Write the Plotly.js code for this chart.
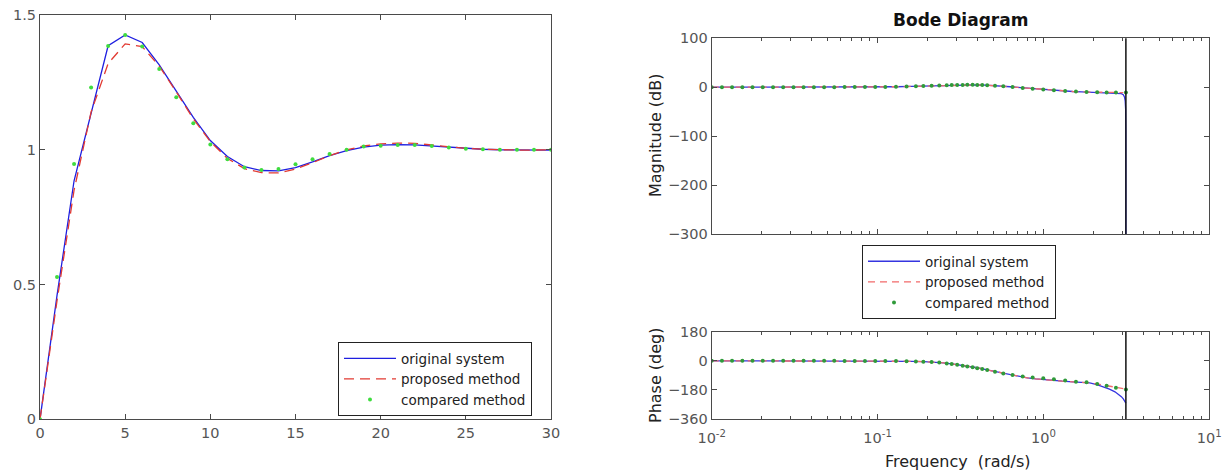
<!DOCTYPE html>
<html><head><meta charset="utf-8">
<script src="https://cdn.plot.ly/plotly-3.0.1.min.js"></script>
<style>html,body{margin:0;padding:0;background:#fff}#chart{width:1231px;height:474px}</style>
</head><body><div id="chart"></div>
<script>
// ---- Step response (left) ----
const stepTime = [0,1,2,3,4,5,6,7,8,9,10,11,12,13,14,15,16,17,18,19,20,21,22,23,24,25,26,27,28,29,30];
const stepOriginal = [0,0.46,0.885,1.14,1.386,1.426,1.398,1.315,1.218,1.12,1.034,0.975,0.937,0.923,0.922,0.934,0.955,0.978,0.997,1.01,1.017,1.019,1.018,1.014,1.009,1.005,1.002,1.0,0.999,0.999,0.999];
const stepProposed = [0,0.44,0.85,1.14,1.32,1.393,1.383,1.31,1.215,1.115,1.03,0.968,0.93,0.915,0.914,0.928,0.952,0.978,1.0,1.014,1.022,1.025,1.024,1.018,1.011,1.005,1.002,1.0,0.999,0.999,1.0];
const stepCompared = [0,0.528,0.947,1.231,1.385,1.426,1.383,1.30,1.195,1.098,1.02,0.965,0.934,0.925,0.929,0.946,0.965,0.984,1.0,1.012,1.015,1.018,1.018,1.014,1.008,1.004,1.002,1.0,1.0,1.0,1.0];

// ---- Bode (right) ----
const origW = [0.01,0.02,0.05,0.1,0.13,0.16,0.19,0.22,0.25,0.28,0.31,0.35,0.4,0.45,0.5,0.56,0.63,0.7,0.8,0.9,1.0,1.15,1.3,1.5,1.7,1.9,2.1,2.3,2.5,2.7,2.85,2.95,3.03,3.08,3.11,3.13,3.139,3.1415];
const origMag = [0,0,0.2,0.5,1.0,1.6,2.4,3.1,3.7,4.2,4.6,4.8,4.7,4.2,3.5,2.4,1.0,-0.4,-2.1,-3.5,-4.8,-6.3,-7.5,-8.7,-9.5,-10.0,-10.4,-10.7,-11.0,-11.4,-12.0,-13.2,-15.5,-20,-28,-45,-90,-300];
const origPhase = [0,0,-0.5,-1,-2,-3,-5,-8,-13,-19,-25,-33,-43,-55,-65,-76,-87,-96,-106,-112,-117,-122,-126,-130,-133,-137,-147,-160,-175,-192,-208,-222,-236,-246,-253,-258,-261,-262];

const propW = [0.01,0.02,0.05,0.1,0.13,0.16,0.19,0.22,0.25,0.28,0.31,0.35,0.4,0.45,0.5,0.56,0.63,0.7,0.8,0.9,1.0,1.15,1.3,1.5,1.7,1.9,2.1,2.3,2.5,2.7,2.85,2.95,3.03];
const propMag = [0,0,0.2,0.5,1.0,1.6,2.4,3.1,3.7,4.2,4.6,4.8,4.7,4.2,3.5,2.4,1.0,-0.4,-2.1,-3.5,-4.8,-6.3,-7.5,-8.7,-9.5,-10.0,-10.4,-10.7,-10.8,-10.9,-10.9,-11.0,-11.0];
const propPhase = [0,0,-0.5,-1,-2,-3,-5,-8,-13,-19,-25,-33,-43,-55,-65,-76,-87,-96,-106,-112,-117,-122,-126,-130,-133,-137,-143,-150,-157,-163,-167,-170,-172];

const compW = [0.01,0.01153,0.01327,0.01531,0.01762,0.02032,0.02344,0.02698,0.03112,0.03581,0.0413,0.04764,0.05483,0.06324,0.07278,0.08395,0.09683,0.1114,0.1291,0.1496,0.1702,0.1888,0.2118,0.2355,0.2612,0.2799,0.302,0.3258,0.3475,0.3741,0.399,0.4276,0.4581,0.5105,0.5728,0.6516,0.7499,0.861,0.9977,1.156,1.352,1.57,1.82,2.109,2.404,2.735,3.1416];
const compMag = [0,0,0,0,0,0,0,0,0.1,0.1,0.1,0.2,0.2,0.3,0.3,0.4,0.5,0.7,1.0,1.4,1.9,2.4,3.0,3.5,4.0,4.3,4.6,4.8,4.9,4.9,4.7,4.4,4.0,3.1,1.9,0.3,-1.5,-3.2,-4.8,-6.3,-7.8,-8.9,-9.7,-10.2,-10.6,-10.8,-10.9];
const compPhase = [0,0,0,0,0,0,0,0,0,0,-0.2,-0.3,-0.4,-0.5,-0.7,-0.9,-1.1,-1.5,-2,-3,-4,-5.5,-8,-11,-16,-20,-25,-30,-35,-40,-46,-51,-57,-67,-78,-88,-97,-104,-108,-114,-122,-129,-133,-144,-154,-166,-177];

const nyquistFreq = [3.1416];

// ---- Ticks ----
const stepXTicks = [0,5,10,15,20,25,30];
const stepYTicks = [0,0.5,1,1.5];
const stepYLabels = ['0','0.5','1','1.5'];
const freqTicks = [0.01,0.1,1,10];
const freqLabels = ['10<sup>-2</sup>','10<sup>-1</sup>','10<sup>0</sup>','10<sup>1</sup>'];
const magTicks = [-300,-200,-100,0,100];
const phaseTicks = [-360,-180,0,180];

const seriesNames = ['original system','proposed method','compared method'];

const FONT = 'DejaVu Sans, sans-serif';
const W = 1231, H = 474;
const px = v => v / W;
const py = v => (H - v) / H;

const blueL = '#1f1fe0', redL = '#e23a32', greenL = '#3fdc3f';
const blueB = '#3535e0', redB = '#f26a6a', greenB = '#2f9a3a';

const traces = [
  {x: stepTime, y: stepOriginal, mode: 'lines', name: seriesNames[0], line: {color: blueL, width: 1.3}, xaxis: 'x', yaxis: 'y', legend: 'legend'},
  {x: stepTime, y: stepProposed, mode: 'lines', name: seriesNames[1], line: {color: redL, width: 1.3, dash: '10px,6px'}, xaxis: 'x', yaxis: 'y', legend: 'legend'},
  {x: stepTime, y: stepCompared, mode: 'markers', name: seriesNames[2], marker: {color: greenL, size: 4}, xaxis: 'x', yaxis: 'y', legend: 'legend'},

  {x: origW, y: origMag, mode: 'lines', name: seriesNames[0], line: {color: blueB, width: 1.3}, xaxis: 'x2', yaxis: 'y2', legend: 'legend2'},
  {x: propW, y: propMag, mode: 'lines', name: seriesNames[1], line: {color: redB, width: 1.3, dash: '7px,5px'}, xaxis: 'x2', yaxis: 'y2', legend: 'legend2'},
  {x: compW, y: compMag, mode: 'markers', name: seriesNames[2], marker: {color: greenB, size: 4}, xaxis: 'x2', yaxis: 'y2', legend: 'legend2'},

  {x: origW, y: origPhase, mode: 'lines', name: seriesNames[0], showlegend: false, line: {color: blueB, width: 1.3}, xaxis: 'x3', yaxis: 'y3'},
  {x: propW, y: propPhase, mode: 'lines', name: seriesNames[1], showlegend: false, line: {color: redB, width: 1.3, dash: '7px,5px'}, xaxis: 'x3', yaxis: 'y3'},
  {x: compW, y: compPhase, mode: 'markers', name: seriesNames[2], showlegend: false, marker: {color: greenB, size: 4}, xaxis: 'x3', yaxis: 'y3'}
];

const axBase = {
  showgrid: false, zeroline: false, showline: true, linecolor: '#4a4a4a', linewidth: 1,
  mirror: 'ticks', ticks: 'inside', ticklen: 5, tickcolor: '#4a4a4a', tickwidth: 1,
  tickfont: {family: FONT, size: 14.5, color: '#555'}
};
const logMinor = {ticks: 'inside', ticklen: 3, tickcolor: '#4a4a4a', dtick: 'D1', showgrid: false};

const legendBase = {xanchor: 'left', yanchor: 'top', bgcolor: '#fff', bordercolor: '#222', borderwidth: 1,
  font: {family: FONT, size: 13.5, color: '#222'}, tracegroupgap: 0, itemwidth: 52};

const layout = {
  width: W, height: H,
  margin: {l: 0, r: 0, t: 0, b: 0},
  paper_bgcolor: '#fff', plot_bgcolor: '#fff',
  font: {family: FONT, color: '#222'},
  xaxis: Object.assign({}, axBase, {domain: [px(40), px(551)], range: [0, 30], tickvals: stepXTicks, anchor: 'y'}),
  yaxis: Object.assign({}, axBase, {domain: [py(419.3), py(15)], range: [0, 1.5], tickvals: stepYTicks, ticktext: stepYLabels, anchor: 'x'}),
  xaxis2: Object.assign({}, axBase, {type: 'log', domain: [px(711.7), px(1209.3)], range: [-2, 1], tickvals: freqTicks, ticktext: freqLabels, showticklabels: false, minor: logMinor, anchor: 'y2'}),
  yaxis2: Object.assign({}, axBase, {domain: [py(234), py(38.3)], range: [-300, 100], tickvals: magTicks, anchor: 'x2'}),
  xaxis3: Object.assign({}, axBase, {type: 'log', domain: [px(711.7), px(1209.3)], range: [-2, 1], tickvals: freqTicks, ticktext: freqLabels, minor: logMinor, ticklabelstandoff: 6, anchor: 'y3'}),
  yaxis3: Object.assign({}, axBase, {domain: [py(419), py(331.7)], range: [-360, 180], tickvals: phaseTicks, anchor: 'x3'}),
  legend: Object.assign({}, legendBase, {x: px(338), y: py(342)}),
  legend2: Object.assign({}, legendBase, {x: px(862), y: py(245)}),
  shapes: [
    {type: 'line', xref: 'x2', yref: 'y2 domain', x0: nyquistFreq[0], x1: nyquistFreq[0], y0: 0, y1: 1, line: {color: '#111', width: 1.5}},
    {type: 'line', xref: 'x3', yref: 'y3 domain', x0: nyquistFreq[0], x1: nyquistFreq[0], y0: 0, y1: 1, line: {color: '#111', width: 1.5}}
  ],
  annotations: [
    {text: '<b>Bode Diagram</b>', xref: 'paper', yref: 'paper', x: px(960), y: py(20), xanchor: 'center', yanchor: 'middle', showarrow: false, font: {family: FONT, size: 17, color: '#111'}},
    {text: 'Magnitude (dB)', xref: 'paper', yref: 'paper', x: px(655), y: py(136), xanchor: 'center', yanchor: 'middle', textangle: -90, showarrow: false, font: {family: FONT, size: 16, color: '#222'}},
    {text: 'Phase (deg)', xref: 'paper', yref: 'paper', x: px(655), y: py(375), xanchor: 'center', yanchor: 'middle', textangle: -90, showarrow: false, font: {family: FONT, size: 16, color: '#222'}},
    {text: 'Frequency  (rad/s)', xref: 'paper', yref: 'paper', x: px(958), y: py(461), xanchor: 'center', yanchor: 'middle', showarrow: false, font: {family: FONT, size: 16, color: '#222'}}
  ]
};

Plotly.newPlot('chart', traces, layout, {displayModeBar: false, staticPlot: true});
</script>
</body></html>
